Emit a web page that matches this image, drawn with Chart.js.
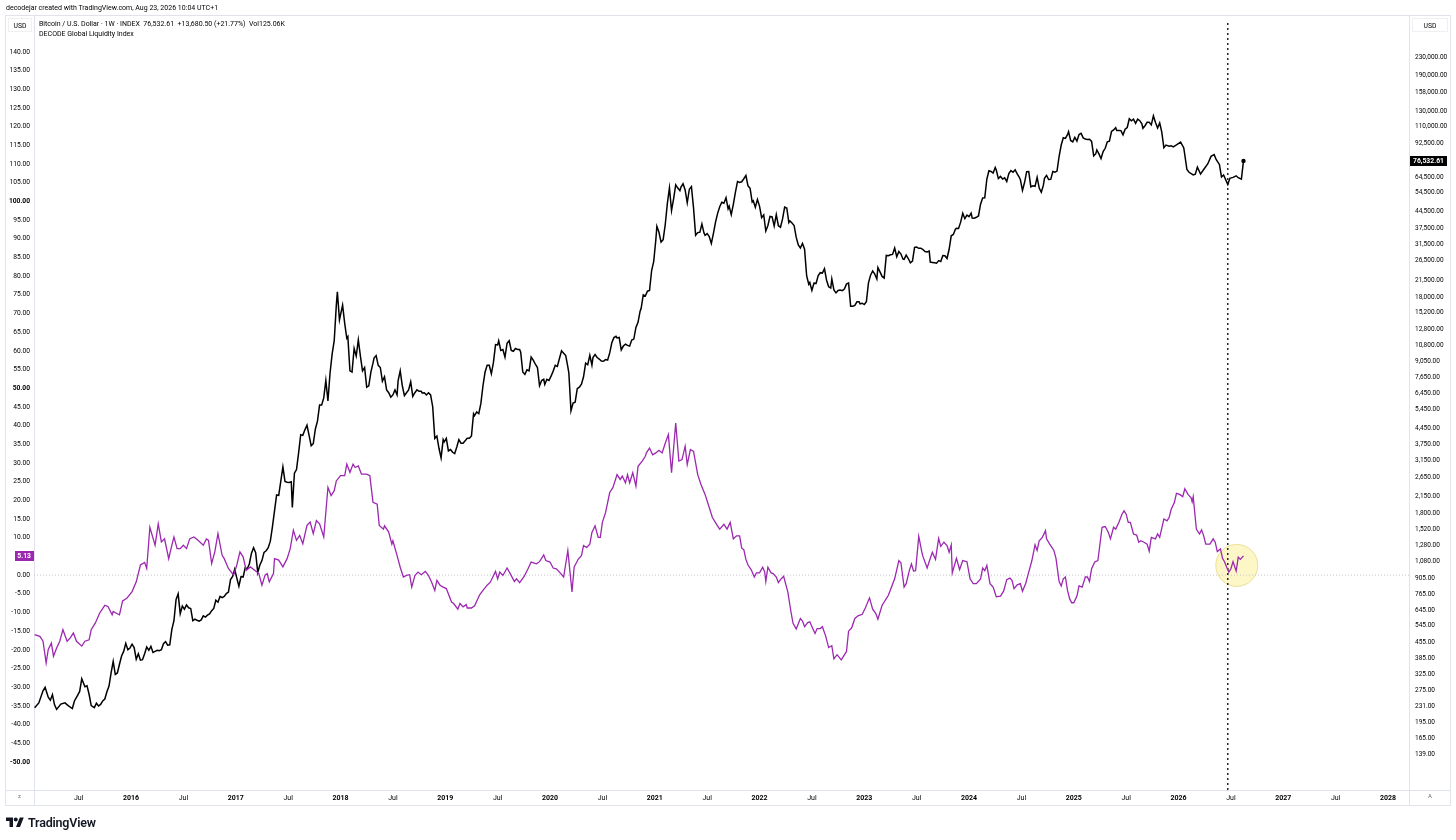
<!DOCTYPE html>
<html>
<head>
<meta charset="utf-8">
<title>Bitcoin vs DECODE Global Liquidity Index</title>
<script src="https://cdn.jsdelivr.net/npm/chart.js@4.4.1/dist/chart.umd.min.js"></script>
<style>
    html, body { margin: 0; padding: 0; background: #fff; }
    body { width: 1456px; height: 840px; position: relative; overflow: hidden; font-family: Roboto, "Open Sans", sans-serif; color: #131722; }
    #wrap { position: absolute; left: 0; top: 0; width: 1456px; height: 840px; }
    .credit { position: absolute; left: 6px; top: 3px; font-size: 7px; line-height: 10px; white-space: nowrap; color: #000; }
    .legend { position: absolute; left: 39px; top: 20px; font-size: 7px; line-height: 9.5px; white-space: nowrap; color: #000; }
    .usd { position: absolute; top: 18px; height: 14px; line-height: 14px; font-size: 6.8px; text-align: center; border: 1px solid #eef0f3; box-sizing: border-box; color: #000; }
    .corner { position: absolute; top: 792px; font-size: 6px; color: #6a6d78; }
    .brand { position: absolute; left: 6px; top: 815px; height: 14px; display: flex; align-items: center; gap: 4px; }
    .brand span { font-size: 12.5px; font-weight: 600; letter-spacing: -0.2px; color: #131722; }
</style>
</head>
<body>
<div id="wrap"><canvas id="chart"></canvas></div>
<div class="credit">decodejar created with TradingView.com, Aug 23, 2026 10:04 UTC+1</div>
<div class="legend">
    <div>Bitcoin / U.S. Dollar · 1W · INDEX&nbsp;&nbsp;76,532.61&nbsp;&nbsp;+13,680.50 (+21.77%)&nbsp;&nbsp;Vol125.06K</div>
    <div>DECODE Global Liquidity Index</div>
</div>
<div class="usd" style="left:8px;width:24px;">USD</div>
<div class="usd" style="left:1412px;width:36px;">USD</div>
<div class="corner" style="left:18px;">z</div>
<div class="corner" style="left:1428px;">A</div>
<div class="brand">
    <svg width="18" height="10" viewBox="0 0 36 20"><path d="M14 20H7V8H0V1h14z" fill="#131722"/><circle cx="19.5" cy="5" r="4" fill="#131722"/><path d="M28 20h-8l7.5-19h8z" fill="#131722"/></svg>
    <span>TradingView</span>
</div>
<script>
// axis ranges
const X_MIN = 2015.074;
const X_MAX = 2028.2;
const LIQ_MIN = -57.5;
const LIQ_MAX = 148;
const BTC_MIN = 95;
const BTC_MAX = 335300;
const MARKER_DATE = 2026.47;
const HIGHLIGHT = [2026.556, 2.6];

const TIME_TICKS = [2015.5, 2016, 2016.5, 2017, 2017.5, 2018, 2018.5, 2019, 2019.5, 2020, 2020.5, 2021, 2021.5,
    2022, 2022.5, 2023, 2023.5, 2024, 2024.5, 2025, 2025.5, 2026, 2026.5, 2027, 2027.5, 2028];
const TIME_LABELS = ['Jul', '2016', 'Jul', '2017', 'Jul', '2018', 'Jul', '2019', 'Jul', '2020', 'Jul', '2021', 'Jul',
    '2022', 'Jul', '2023', 'Jul', '2024', 'Jul', '2025', 'Jul', '2026', 'Jul', '2027', 'Jul', '2028'];

// 5.00 sits under the last-value badge, so it is not listed
const LIQ_TICKS = [140, 135, 130, 125, 120, 115, 110, 105, 100, 95, 90, 85, 80, 75, 70, 65, 60, 55, 50, 45, 40,
    35, 30, 25, 20, 15, 10, 0, -5, -10, -15, -20, -25, -30, -35, -40, -45, -50];

const BTC_TICKS = [230000, 190000, 158000, 130000, 110000, 92500, 64500, 54500, 44500, 37500, 31500, 26500,
    21500, 18000, 15200, 12800, 10800, 9050, 7650, 6450, 5450, 4450, 3750, 3150, 2650, 2150, 1800, 1520, 1280,
    1080, 905, 765, 645, 545, 455, 385, 325, 275, 231, 195, 165, 139];

// Bitcoin weekly close, [decimal year, USD]
const BTC_WEEKLY = [
    [2015.08, 228], [2015.12, 240], [2015.16, 273], [2015.18, 283], [2015.21, 255], [2015.23, 247], [2015.25, 262],
    [2015.27, 235], [2015.29, 224], [2015.33, 237], [2015.37, 240], [2015.40, 233], [2015.44, 226], [2015.46, 245],
    [2015.49, 260], [2015.51, 271], [2015.53, 310], [2015.56, 285], [2015.58, 288], [2015.60, 263], [2015.62, 233],
    [2015.65, 228], [2015.67, 239], [2015.69, 232], [2015.71, 236], [2015.73, 245], [2015.75, 250], [2015.77, 270],
    [2015.79, 287], [2015.81, 330], [2015.83, 373], [2015.85, 325], [2015.87, 330], [2015.89, 362], [2015.91, 395],
    [2015.93, 415], [2015.95, 452], [2015.97, 422], [2015.99, 430],
    [2016.01, 448], [2016.03, 432], [2016.05, 382], [2016.07, 405], [2016.09, 378], [2016.11, 380], [2016.13, 405],
    [2016.15, 435], [2016.17, 420], [2016.19, 438], [2016.21, 410], [2016.23, 415], [2016.25, 420], [2016.27, 418],
    [2016.29, 422], [2016.31, 450], [2016.33, 460], [2016.35, 443], [2016.37, 445], [2016.39, 525], [2016.41, 575],
    [2016.43, 720], [2016.45, 765], [2016.47, 620], [2016.49, 672], [2016.51, 650], [2016.53, 680], [2016.55, 660],
    [2016.57, 655], [2016.59, 575], [2016.61, 585], [2016.63, 578], [2016.65, 572], [2016.67, 580], [2016.69, 606],
    [2016.71, 598], [2016.73, 610], [2016.75, 618], [2016.77, 640], [2016.79, 655], [2016.81, 715], [2016.83, 700],
    [2016.85, 745], [2016.87, 735], [2016.89, 745], [2016.91, 768], [2016.93, 780], [2016.95, 890], [2016.97, 920],
    [2016.99, 995],
    [2017.01, 905], [2017.03, 830], [2017.05, 920], [2017.07, 915], [2017.09, 1010], [2017.11, 1000], [2017.13, 1055],
    [2017.15, 1180], [2017.17, 1250], [2017.19, 1185], [2017.21, 960], [2017.23, 1040], [2017.25, 1090], [2017.27, 1190],
    [2017.29, 1210], [2017.31, 1250], [2017.33, 1340], [2017.35, 1560], [2017.37, 1850], [2017.39, 2190], [2017.41, 2180],
    [2017.43, 2540], [2017.45, 2950], [2017.47, 2530], [2017.49, 2510], [2017.51, 2500], [2017.53, 2520], [2017.54, 1920],
    [2017.56, 2760], [2017.58, 2870], [2017.60, 3430], [2017.62, 4160], [2017.64, 4130], [2017.66, 4380], [2017.68, 4600],
    [2017.70, 4130], [2017.72, 3700], [2017.74, 3780], [2017.76, 4420], [2017.78, 4800], [2017.80, 5700], [2017.82, 5700],
    [2017.84, 6150], [2017.86, 7400], [2017.88, 5950], [2017.90, 8000], [2017.92, 9800], [2017.94, 11300], [2017.96, 16500],
    [2017.97, 19000], [2017.99, 14100],
    [2018.02, 16500], [2018.04, 13600], [2018.06, 11600], [2018.07, 11800], [2018.09, 8200], [2018.11, 8100], [2018.13, 10400],
    [2018.15, 9600], [2018.17, 11400], [2018.19, 9600], [2018.21, 8200], [2018.23, 8500], [2018.25, 6900], [2018.27, 7000],
    [2018.29, 8100], [2018.31, 8900], [2018.32, 9400], [2018.34, 9650], [2018.36, 8700], [2018.38, 8500], [2018.40, 7350],
    [2018.42, 7700], [2018.44, 6700], [2018.46, 6500], [2018.48, 6200], [2018.50, 6350], [2018.52, 6700], [2018.54, 6350],
    [2018.55, 7400], [2018.57, 8200], [2018.59, 7000], [2018.61, 6300], [2018.63, 6500], [2018.65, 6700], [2018.67, 7300],
    [2018.69, 6250], [2018.71, 6500], [2018.73, 6700], [2018.75, 6600], [2018.77, 6600], [2018.78, 6480], [2018.80, 6500],
    [2018.82, 6350], [2018.84, 6500], [2018.86, 6350], [2018.88, 5600], [2018.90, 4000], [2018.92, 4100], [2018.94, 3600],
    [2018.96, 3250], [2018.98, 3950], [2018.99, 3850],
    [2019.01, 4000], [2019.03, 3500], [2019.05, 3550], [2019.07, 3450], [2019.09, 3400], [2019.11, 3650], [2019.13, 3950],
    [2019.15, 3800], [2019.17, 3800], [2019.19, 3900], [2019.21, 4000], [2019.23, 4000], [2019.25, 4100], [2019.27, 5200],
    [2019.28, 5100], [2019.30, 5300], [2019.32, 5200], [2019.34, 5800], [2019.36, 7000], [2019.38, 8100], [2019.40, 8700],
    [2019.42, 8700], [2019.44, 7950], [2019.46, 8980], [2019.48, 10850], [2019.50, 10800], [2019.51, 11300], [2019.53, 10200],
    [2019.55, 10300], [2019.57, 9500], [2019.59, 11000], [2019.61, 11300], [2019.63, 10200], [2019.65, 10100], [2019.67, 10400],
    [2019.69, 10300], [2019.71, 10300], [2019.72, 10000], [2019.74, 8100], [2019.76, 7900], [2019.78, 8300], [2019.80, 8200],
    [2019.82, 9500], [2019.84, 9200], [2019.86, 8800], [2019.88, 8500], [2019.90, 7000], [2019.92, 7400], [2019.94, 7500],
    [2019.95, 7100], [2019.97, 7500], [2019.99, 7400],
    [2020.01, 7750], [2020.03, 8180], [2020.05, 8700], [2020.07, 8600], [2020.09, 9350], [2020.11, 10150], [2020.13, 9900],
    [2020.15, 9650], [2020.17, 8550], [2020.18, 8000], [2020.20, 5360], [2020.22, 5830], [2020.24, 5880], [2020.26, 6780],
    [2020.28, 6900], [2020.30, 7120], [2020.32, 7700], [2020.34, 8900], [2020.36, 8750], [2020.38, 9680], [2020.40, 8720],
    [2020.41, 9450], [2020.43, 9750], [2020.45, 9450], [2020.47, 9300], [2020.49, 9100], [2020.51, 9080], [2020.53, 9250],
    [2020.55, 9200], [2020.57, 9930], [2020.59, 11050], [2020.61, 11680], [2020.63, 11850], [2020.64, 11650], [2020.66, 11700],
    [2020.68, 10250], [2020.70, 10680], [2020.72, 10900], [2020.74, 10750], [2020.76, 10670], [2020.78, 11380], [2020.80, 11500],
    [2020.82, 13030], [2020.84, 13740], [2020.86, 15480], [2020.87, 15960], [2020.89, 18400], [2020.91, 18180], [2020.93, 19140],
    [2020.95, 19270], [2020.97, 23850], [2020.99, 26300],
    [2021.01, 33000], [2021.02, 38150], [2021.04, 35800], [2021.06, 32250], [2021.08, 33100], [2021.10, 38900], [2021.12, 48600],
    [2021.14, 57400], [2021.16, 45100], [2021.18, 51200], [2021.20, 59300], [2021.22, 57300], [2021.24, 55800], [2021.25, 57900],
    [2021.27, 60000], [2021.29, 56200], [2021.31, 49000], [2021.33, 56600], [2021.35, 58200], [2021.37, 46400], [2021.39, 34700],
    [2021.41, 35700], [2021.43, 35800], [2021.45, 39100], [2021.47, 35500], [2021.48, 34700], [2021.50, 35300], [2021.52, 34250],
    [2021.54, 31800], [2021.56, 35400], [2021.58, 39900], [2021.60, 43800], [2021.62, 47000], [2021.64, 49300], [2021.66, 48800],
    [2021.68, 51750], [2021.70, 46000], [2021.71, 47300], [2021.73, 43200], [2021.75, 48200], [2021.77, 54950], [2021.79, 61500],
    [2021.81, 60900], [2021.83, 61300], [2021.85, 63300], [2021.87, 65500], [2021.89, 58700], [2021.91, 57200], [2021.93, 49400],
    [2021.94, 50100], [2021.96, 46700], [2021.98, 50800],
    [2022.00, 47300], [2022.02, 41800], [2022.04, 43100], [2022.06, 36300], [2022.08, 38500], [2022.10, 42400], [2022.12, 42200],
    [2022.14, 38300], [2022.16, 43200], [2022.18, 38400], [2022.20, 37800], [2022.22, 41300], [2022.24, 46800], [2022.26, 46400],
    [2022.28, 39700], [2022.29, 40400], [2022.31, 39500], [2022.33, 38500], [2022.35, 34000], [2022.37, 31300], [2022.39, 30300],
    [2022.41, 31800], [2022.43, 29900], [2022.45, 22500], [2022.47, 20600], [2022.48, 21000], [2022.50, 19300], [2022.52, 20850],
    [2022.54, 20800], [2022.56, 22600], [2022.58, 23300], [2022.60, 23200], [2022.62, 24300], [2022.64, 21500], [2022.66, 20050],
    [2022.68, 19800], [2022.69, 21800], [2022.71, 19400], [2022.73, 18800], [2022.75, 19300], [2022.77, 19400], [2022.79, 19260],
    [2022.81, 19570], [2022.83, 20630], [2022.85, 20900], [2022.87, 16300], [2022.89, 16300], [2022.91, 16450], [2022.93, 17100],
    [2022.95, 17100], [2022.96, 16740], [2022.98, 16840],
    [2023.00, 16600], [2023.02, 17100], [2023.04, 20900], [2023.06, 22700], [2023.08, 23750], [2023.10, 22950], [2023.12, 21800],
    [2023.13, 24600], [2023.15, 23500], [2023.17, 22400], [2023.19, 22000], [2023.21, 28000], [2023.23, 27900], [2023.25, 28200],
    [2023.27, 28300], [2023.29, 30300], [2023.31, 27600], [2023.33, 29200], [2023.35, 28400], [2023.37, 26900], [2023.38, 26850],
    [2023.40, 28100], [2023.42, 27100], [2023.44, 25900], [2023.46, 26350], [2023.48, 30500], [2023.50, 30600], [2023.52, 30200],
    [2023.54, 30250], [2023.56, 29800], [2023.58, 29200], [2023.60, 29050], [2023.62, 29300], [2023.63, 26100], [2023.65, 26000],
    [2023.67, 25900], [2023.69, 25800], [2023.71, 26500], [2023.73, 26250], [2023.75, 27970], [2023.77, 27900], [2023.79, 27100],
    [2023.81, 29900], [2023.83, 34500], [2023.85, 35000], [2023.87, 37000], [2023.88, 37400], [2023.90, 37300], [2023.92, 39900],
    [2023.94, 43800], [2023.96, 41400], [2023.98, 43000],
    [2024.00, 42300], [2024.02, 43900], [2024.03, 41700], [2024.05, 41600], [2024.07, 42000], [2024.09, 42600], [2024.11, 48300],
    [2024.13, 51600], [2024.15, 51700], [2024.17, 63100], [2024.19, 68900], [2024.21, 68400], [2024.23, 67200], [2024.25, 71300],
    [2024.26, 69400], [2024.28, 63400], [2024.30, 64900], [2024.32, 63100], [2024.34, 63900], [2024.36, 61500], [2024.38, 66900],
    [2024.40, 69000], [2024.42, 67800], [2024.44, 69600], [2024.46, 66600], [2024.48, 64300], [2024.49, 62700], [2024.51, 55900],
    [2024.53, 60800], [2024.55, 68200], [2024.57, 68300], [2024.59, 58100], [2024.61, 58700], [2024.63, 58400], [2024.65, 64200],
    [2024.67, 57300], [2024.69, 54800], [2024.71, 59100], [2024.72, 63600], [2024.74, 65600], [2024.76, 62800], [2024.78, 62900],
    [2024.80, 68400], [2024.82, 67900], [2024.84, 68700], [2024.86, 80400], [2024.88, 90600], [2024.90, 97900], [2024.92, 97200],
    [2024.94, 101200], [2024.95, 104500], [2024.97, 95100], [2024.99, 93700],
    [2025.01, 98300], [2025.03, 94500], [2025.05, 101300], [2025.07, 102600], [2025.09, 97700], [2025.11, 96500], [2025.13, 96100],
    [2025.15, 96300], [2025.17, 94200], [2025.19, 80700], [2025.21, 82600], [2025.22, 86000], [2025.24, 82400], [2025.26, 78400],
    [2025.28, 84500], [2025.30, 87500], [2025.32, 93700], [2025.34, 94300], [2025.36, 104600], [2025.38, 106400], [2025.40, 109000],
    [2025.41, 105700], [2025.43, 105700], [2025.45, 105600], [2025.47, 101000], [2025.49, 107100], [2025.51, 109200], [2025.53, 119800],
    [2025.55, 117300], [2025.57, 119400], [2025.59, 114200], [2025.61, 119300], [2025.63, 117400], [2025.65, 113500], [2025.66, 108200],
    [2025.68, 111200], [2025.70, 115300], [2025.72, 115300], [2025.74, 112200], [2025.76, 123500], [2025.78, 115200], [2025.80, 108600],
    [2025.82, 114500], [2025.84, 104000], [2025.86, 88000], [2025.88, 90500], [2025.91, 89500], [2025.93, 89800], [2025.95, 88800],
    [2025.98, 90700], [2026.02, 93500], [2026.05, 87800], [2026.08, 69800], [2026.10, 67800], [2026.14, 65900], [2026.16, 66500],
    [2026.18, 71600], [2026.21, 66500], [2026.24, 69800], [2026.28, 74300], [2026.31, 80300], [2026.34, 81800], [2026.36, 77500],
    [2026.39, 73700], [2026.41, 64500], [2026.43, 65900], [2026.47, 59600], [2026.49, 63600], [2026.52, 64200], [2026.55, 65300],
    [2026.57, 64000], [2026.60, 63000], [2026.62, 76532.61]
];

// DECODE Global Liquidity Index, [decimal year, index]
const LIQ_INDEX = [
    [2015.08, -15.9], [2015.13, -16.4], [2015.16, -17.7], [2015.19, -23.5], [2015.21, -19.9], [2015.24, -18.2], [2015.26, -21.7],
    [2015.29, -19.5], [2015.32, -17.7], [2015.35, -14.6], [2015.39, -17.7], [2015.42, -16.8], [2015.45, -15.5], [2015.48, -17.7],
    [2015.53, -19.0], [2015.56, -17.7], [2015.60, -17.3], [2015.62, -14.6], [2015.66, -12.8], [2015.70, -10.2], [2015.75, -8.1],
    [2015.78, -8.4], [2015.82, -10.6], [2015.83, -9.7], [2015.86, -10.2], [2015.89, -10.6], [2015.92, -6.9], [2015.96, -6.2],
    [2016.01, -4.4], [2016.05, -1.8], [2016.09, 2.7], [2016.13, 3.4], [2016.15, 1.8], [2016.18, 12.8], [2016.23, 8.0],
    [2016.26, 13.7], [2016.29, 8.9], [2016.32, 9.7], [2016.36, 4.4], [2016.39, 8.0], [2016.41, 10.2], [2016.44, 7.1],
    [2016.47, 7.1], [2016.50, 8.0], [2016.53, 7.1], [2016.56, 9.7], [2016.60, 10.2], [2016.64, 9.3], [2016.69, 8.0],
    [2016.72, 9.7], [2016.74, 9.3], [2016.77, 3.1], [2016.80, 6.2], [2016.83, 11.1], [2016.87, 5.3], [2016.89, 4.4],
    [2016.93, 1.8], [2016.98, 0.0], [2017.01, 2.7], [2017.04, 6.2], [2017.07, 4.9], [2017.10, 1.3], [2017.14, 2.2],
    [2017.18, 1.3], [2017.22, 0.4], [2017.25, -2.7], [2017.28, 0.0], [2017.30, 0.4], [2017.32, -1.8], [2017.36, 0.4],
    [2017.37, 4.4], [2017.41, 4.0], [2017.45, 2.2], [2017.49, 4.4], [2017.52, 7.1], [2017.55, 12.0], [2017.58, 9.3],
    [2017.61, 10.6], [2017.64, 8.4], [2017.68, 13.3], [2017.71, 14.2], [2017.74, 11.1], [2017.77, 14.6], [2017.80, 13.7],
    [2017.84, 10.2], [2017.88, 23.5], [2017.91, 21.3], [2017.94, 22.6], [2017.96, 25.2], [2018.00, 26.6], [2018.04, 26.6],
    [2018.06, 29.7], [2018.09, 27.5], [2018.12, 29.7], [2018.14, 28.8], [2018.17, 29.2], [2018.20, 27.0], [2018.25, 27.0],
    [2018.28, 26.6], [2018.31, 19.5], [2018.35, 19.0], [2018.37, 13.3], [2018.41, 12.3], [2018.42, 13.2], [2018.46, 11.5],
    [2018.49, 8.3], [2018.50, 9.2], [2018.54, 5.2], [2018.57, 2.1], [2018.60, -0.5], [2018.63, -0.1], [2018.66, 0.1],
    [2018.68, -3.2], [2018.71, -0.1], [2018.74, 0.8], [2018.77, 0.1], [2018.81, 1.0], [2018.84, -0.1], [2018.87, -1.9],
    [2018.90, -4.1], [2018.92, -1.4], [2018.95, -2.7], [2018.98, -3.2], [2019.01, -3.6], [2019.06, -7.2], [2019.08, -7.6],
    [2019.12, -9.1], [2019.14, -7.6], [2019.17, -8.5], [2019.20, -7.9], [2019.21, -8.8], [2019.25, -8.8], [2019.28, -8.2],
    [2019.33, -5.2], [2019.36, -4.1], [2019.40, -2.7], [2019.43, -1.9], [2019.48, 1.0], [2019.50, -1.0], [2019.52, 0.8],
    [2019.55, -0.1], [2019.59, 1.9], [2019.62, 0.4], [2019.66, -1.7], [2019.68, -1.0], [2019.71, -2.0], [2019.75, -0.5],
    [2019.79, 1.7], [2019.82, 3.5], [2019.87, 3.0], [2019.90, 3.6], [2019.94, 5.4], [2019.96, 3.9], [2020.00, 3.5],
    [2020.03, 1.9], [2020.06, 1.7], [2020.09, 0.8], [2020.13, -0.5], [2020.17, 6.6], [2020.21, -4.5], [2020.23, 2.1],
    [2020.27, 4.3], [2020.30, 5.2], [2020.32, 7.9], [2020.35, 7.4], [2020.38, 8.3], [2020.40, 11.4], [2020.43, 13.2],
    [2020.46, 10.1], [2020.48, 10.1], [2020.50, 14.1], [2020.53, 16.7], [2020.57, 22.1], [2020.60, 23.4], [2020.64, 26.9],
    [2020.67, 25.6], [2020.69, 26.5], [2020.72, 24.7], [2020.74, 26.9], [2020.76, 24.7], [2020.79, 27.4], [2020.82, 23.8],
    [2020.84, 29.1], [2020.88, 30.5], [2020.91, 31.8], [2020.92, 32.7], [2020.95, 34.0], [2020.98, 32.2], [2021.01, 32.7],
    [2021.04, 33.4], [2021.07, 32.7], [2021.10, 35.3], [2021.13, 37.6], [2021.16, 27.4], [2021.20, 40.7], [2021.23, 30.5],
    [2021.26, 30.9], [2021.29, 34.5], [2021.31, 29.6], [2021.34, 33.6], [2021.37, 33.1], [2021.41, 26.9], [2021.44, 24.3],
    [2021.48, 21.6], [2021.52, 18.1], [2021.55, 15.4], [2021.59, 13.6], [2021.62, 12.3], [2021.66, 13.6], [2021.69, 12.3],
    [2021.72, 14.1], [2021.75, 9.7], [2021.78, 10.5], [2021.81, 10.5], [2021.83, 7.2], [2021.85, 6.8], [2021.87, 4.2],
    [2021.89, 2.7], [2021.92, 1.5], [2021.95, -0.5], [2021.97, 0.6], [2022.00, 0.6], [2022.03, 2.1], [2022.05, 0.8],
    [2022.06, -1.7], [2022.08, 2.1], [2022.11, 0.6], [2022.13, 0.4], [2022.16, -0.5], [2022.18, -2.0], [2022.20, -1.2],
    [2022.23, -0.3], [2022.27, -4.5], [2022.30, -9.8], [2022.32, -12.9], [2022.35, -14.4], [2022.39, -11.6], [2022.41, -12.3],
    [2022.43, -13.8], [2022.46, -12.7], [2022.48, -12.5], [2022.51, -14.4], [2022.53, -15.6], [2022.55, -14.3], [2022.58, -14.3],
    [2022.60, -13.8], [2022.63, -16.2], [2022.66, -19.4], [2022.69, -18.9], [2022.71, -22.4], [2022.74, -21.3], [2022.78, -22.7],
    [2022.80, -21.8], [2022.82, -20.9], [2022.83, -20.5], [2022.85, -15.0], [2022.88, -14.1], [2022.91, -11.6], [2022.94, -10.9],
    [2022.98, -10.5], [2023.01, -8.8], [2023.02, -8.1], [2023.05, -6.1], [2023.08, -9.1], [2023.11, -10.3], [2023.13, -11.8],
    [2023.17, -8.1], [2023.19, -7.2], [2023.21, -6.3], [2023.23, -5.4], [2023.26, -3.2], [2023.29, -1.0], [2023.33, 3.9],
    [2023.35, 3.3], [2023.38, -3.2], [2023.40, -2.3], [2023.43, 1.2], [2023.45, 3.0], [2023.47, 1.1], [2023.49, 1.2],
    [2023.52, 10.4], [2023.55, 6.1], [2023.56, 5.0], [2023.60, 1.9], [2023.63, 4.5], [2023.65, 6.1], [2023.68, 4.2],
    [2023.71, 9.8], [2023.73, 7.7], [2023.76, 8.8], [2023.79, 7.9], [2023.81, 6.1], [2023.83, 8.1], [2023.84, 0.6],
    [2023.88, 4.5], [2023.91, 1.5], [2023.94, 3.9], [2023.98, 3.6], [2024.01, -1.0], [2024.04, -2.3], [2024.07, -2.3],
    [2024.11, -1.0], [2024.13, 1.9], [2024.15, 1.2], [2024.17, 2.6], [2024.20, -2.3], [2024.23, -3.2], [2024.26, -5.8],
    [2024.30, -5.6], [2024.33, -4.3], [2024.36, -1.2], [2024.39, -0.8], [2024.41, -1.4], [2024.43, -3.6], [2024.46, -2.6],
    [2024.49, -2.3], [2024.51, -4.3], [2024.54, -2.3], [2024.57, 0.8], [2024.60, 3.9], [2024.63, 8.1], [2024.65, 6.6],
    [2024.67, 9.2], [2024.70, 10.1], [2024.73, 11.9], [2024.74, 9.7], [2024.77, 8.3], [2024.81, 6.6], [2024.83, 4.5],
    [2024.86, -1.7], [2024.88, -2.9], [2024.90, -1.0], [2024.92, -0.5], [2024.94, -4.1], [2024.96, -6.3], [2024.98, -7.4],
    [2025.00, -7.4], [2025.03, -5.6], [2025.05, -2.9], [2025.08, -3.2], [2025.11, -0.5], [2025.13, -0.5], [2025.15, -1.7],
    [2025.17, 1.7], [2025.20, 3.5], [2025.23, 3.9], [2025.27, 12.8], [2025.30, 13.0], [2025.33, 11.4], [2025.35, 9.7],
    [2025.38, 12.8], [2025.40, 12.3], [2025.43, 14.1], [2025.46, 16.3], [2025.48, 17.2], [2025.50, 16.3], [2025.52, 14.1],
    [2025.54, 14.1], [2025.57, 11.0], [2025.60, 10.7], [2025.62, 8.8], [2025.64, 9.2], [2025.67, 8.8], [2025.70, 8.3],
    [2025.72, 6.4], [2025.74, 10.1], [2025.78, 9.7], [2025.80, 11.0], [2025.82, 10.1], [2025.86, 15.0], [2025.89, 14.5],
    [2025.91, 15.4], [2025.93, 17.6], [2025.96, 19.4], [2025.98, 21.9], [2026.01, 21.6], [2026.04, 21.0], [2026.06, 23.1],
    [2026.09, 21.6], [2026.12, 20.7], [2026.13, 19.6], [2026.14, 21.0], [2026.17, 12.3], [2026.20, 11.0], [2026.22, 12.1],
    [2026.24, 10.5], [2026.26, 8.3], [2026.30, 8.3], [2026.33, 9.7], [2026.35, 8.8], [2026.37, 6.3], [2026.40, 7.0],
    [2026.42, 4.5], [2026.44, 3.5], [2026.46, 2.1], [2026.48, 0.8], [2026.50, 1.7], [2026.52, 3.6], [2026.55, 1.1],
    [2026.57, 4.8], [2026.59, 4.2], [2026.62, 5.13]
];

const FONT = 'Roboto, "Open Sans", sans-serif';
const INK = '#131722';
const PURPLE = '#9c27b0';
const FRAME = '#e0e3eb';

const toPoints = (rows) => rows.map(([x, y]) => ({ x, y }));
const fmtBtc = (v) => v.toLocaleString('en-US', { minimumFractionDigits: 2, maximumFractionDigits: 2 });

// frame lines and price badges, TradingView style
const chromePlugin = {
    id: 'chrome',
    beforeDraw(chart) {
        const { ctx, chartArea } = chart;
        ctx.save();
        ctx.strokeStyle = FRAME;
        ctx.lineWidth = 1;
        ctx.strokeRect(5.5, 15.5, 1445, 790);
        ctx.beginPath();
        ctx.moveTo(Math.round(chartArea.left) + 0.5, 16);
        ctx.lineTo(Math.round(chartArea.left) + 0.5, 805);
        ctx.moveTo(Math.round(chartArea.right) + 0.5, 16);
        ctx.lineTo(Math.round(chartArea.right) + 0.5, 805);
        ctx.moveTo(5, Math.round(chartArea.bottom) + 0.5);
        ctx.lineTo(1451, Math.round(chartArea.bottom) + 0.5);
        ctx.stroke();
        ctx.restore();
    },
    afterDraw(chart) {
        const { ctx, scales, chartArea } = chart;
        const lastLiq = LIQ_INDEX[LIQ_INDEX.length - 1][1];
        const lastBtc = BTC_WEEKLY[BTC_WEEKLY.length - 1][1];
        ctx.save();
        ctx.font = `bold 6.8px ${FONT}`;
        ctx.textBaseline = 'middle';

        const yl = Math.round(scales.yLiq.getPixelForValue(lastLiq));
        ctx.fillStyle = PURPLE;
        ctx.fillRect(15, yl - 5, chartArea.left - 15, 10);
        ctx.fillStyle = '#fff';
        ctx.textAlign = 'right';
        ctx.fillText(lastLiq.toFixed(2), chartArea.left - 3, yl + 0.5);

        const yb = Math.round(scales.yBtc.getPixelForValue(lastBtc));
        ctx.fillStyle = '#000';
        ctx.fillRect(chartArea.right + 1, yb - 5, 37, 10);
        ctx.fillStyle = '#fff';
        ctx.textAlign = 'left';
        ctx.fillText(fmtBtc(lastBtc), chartArea.right + 4, yb + 0.5);
        ctx.restore();
    }
};

const tickFont = (size, bold) => ({ family: FONT, size, weight: bold ? 'bold' : 'normal' });

const ctx = document.getElementById('chart').getContext('2d');
new Chart(ctx, {
    type: 'line',
    data: {
        datasets: [
            {
                label: 'DECODE Global Liquidity Index',
                data: toPoints(LIQ_INDEX),
                yAxisID: 'yLiq',
                borderColor: PURPLE,
                borderWidth: 1.3,
                pointRadius: 0,
                tension: 0,
                order: 1
            },
            {
                label: 'Bitcoin / U.S. Dollar',
                data: toPoints(BTC_WEEKLY),
                yAxisID: 'yBtc',
                borderColor: '#000',
                borderWidth: 1.5,
                pointRadius: (c) => (c.dataIndex === BTC_WEEKLY.length - 1 ? 2.2 : 0),
                pointBackgroundColor: '#000',
                pointBorderWidth: 0,
                tension: 0,
                order: 2
            },
            {
                label: 'zero',
                data: toPoints([[X_MIN, 0], [X_MAX, 0]]),
                yAxisID: 'yLiq',
                borderColor: '#c3c6ce',
                borderWidth: 1,
                borderDash: [1, 2],
                pointRadius: 0,
                order: 5
            },
            {
                label: 'marker',
                data: toPoints([[MARKER_DATE, LIQ_MIN], [MARKER_DATE, LIQ_MAX]]),
                yAxisID: 'yLiq',
                borderColor: INK,
                borderWidth: 1.4,
                borderDash: [2, 3],
                pointRadius: 0,
                order: 3
            },
            {
                label: 'highlight',
                data: toPoints([HIGHLIGHT]),
                yAxisID: 'yLiq',
                showLine: false,
                pointRadius: 21,
                backgroundColor: 'rgba(252, 240, 160, 0.6)',
                borderColor: 'rgba(226, 212, 120, 0.7)',
                pointBorderWidth: 1,
                order: 10
            }
        ]
    },
    options: {
        responsive: true,
        maintainAspectRatio: false,
        animation: false,
        events: [],
        layout: { padding: { top: 16, left: 0, right: 0, bottom: 34 } },
        plugins: { legend: { display: false }, tooltip: { enabled: false } },
        scales: {
            x: {
                type: 'linear',
                min: X_MIN,
                max: X_MAX,
                grid: { display: false, drawTicks: false },
                border: { display: false },
                afterBuildTicks: (scale) => {
                    scale.ticks = TIME_TICKS.map((value) => ({ value }));
                },
                afterFit: (scale) => { scale.height = 16; },
                ticks: {
                    autoSkip: false,
                    maxRotation: 0,
                    minRotation: 0,
                    padding: 4,
                    color: '#000',
                    font: (c) => tickFont(7, c.tick && Number.isInteger(c.tick.value)),
                    callback: (value, index) => TIME_LABELS[index]
                }
            },
            yLiq: {
                type: 'linear',
                position: 'left',
                min: LIQ_MIN,
                max: LIQ_MAX,
                grid: { display: false, drawTicks: false },
                border: { display: false },
                afterBuildTicks: (scale) => {
                    scale.ticks = LIQ_TICKS.map((value) => ({ value }));
                },
                afterFit: (scale) => { scale.width = 34; },
                ticks: {
                    autoSkip: false,
                    padding: 4,
                    color: '#000',
                    font: (c) => tickFont(6.7, c.tick && (c.tick.value === 100 || c.tick.value === 50 || c.tick.value === -50)),
                    callback: (value) => value.toFixed(2)
                }
            },
            yBtc: {
                type: 'logarithmic',
                position: 'right',
                min: BTC_MIN,
                max: BTC_MAX,
                grid: { display: false, drawTicks: false },
                border: { display: false },
                afterBuildTicks: (scale) => {
                    scale.ticks = BTC_TICKS.map((value) => ({ value }));
                },
                afterFit: (scale) => { scale.width = 47; },
                ticks: {
                    autoSkip: false,
                    padding: 6,
                    color: '#000',
                    font: tickFont(6.5, false),
                    callback: (value) => fmtBtc(value)
                }
            }
        }
    },
    plugins: [chromePlugin]
});
</script>
</body>
</html>
